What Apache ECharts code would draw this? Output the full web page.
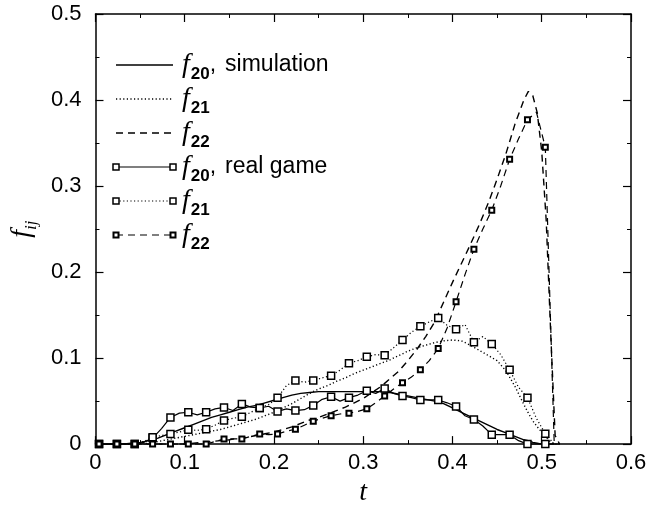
<!DOCTYPE html>
<html>
<head>
<meta charset="utf-8">
<script src="https://cdn.jsdelivr.net/npm/echarts@6/dist/echarts.min.js"></script>
<style>html,body{margin:0;padding:0;background:#fff;}#c{width:660px;height:512px;}</style>
</head>
<body>
<div id="c"></div>
<script>
// ---- data ----
const xTickLabels = ['0', '0.1', '0.2', '0.3', '0.4', '0.5', '0.6'];
const yTickLabels = ['0', '0.1', '0.2', '0.3', '0.4', '0.5'];

const simT = [0,0.01,0.02,0.03,0.04,0.05,0.06,0.07,0.08,0.09,
  0.10,0.11,0.12,0.13,0.14,0.15,0.16,0.17,0.18,0.19,
  0.20,0.21,0.22,0.23,0.24,0.25,0.26,0.27,0.28,0.29,
  0.30,0.31,0.32,0.33,0.34,0.35,0.36,0.37,0.38,0.39,
  0.40,0.41,0.42,0.43,0.44,0.45,0.46,0.47,0.48,
  0.485,0.49,0.495,0.50,0.505,0.51,0.515,0.52];
const simF20 = [0,0,0,0,0.001,0.002,0.004,0.007,0.011,0.015,
  0.019,0.023,0.027,0.031,0.034,0.037,0.040,0.043,0.045,0.048,
  0.051,0.054,0.057,0.059,0.060,0.061,0.061,0.061,0.061,0.061,
  0.061,0.061,0.061,0.060,0.058,0.056,0.054,0.052,0.050,0.047,
  0.042,0.037,0.032,0.027,0.022,0.017,0.013,0.009,0.005,
  0.004,0.002,0.001,0,0,0,0,0];
const simF21 = [0,0,0,0,0,0,0.001,0.003,0.005,0.007,
  0.009,0.011,0.013,0.015,0.017,0.020,0.023,0.026,0.029,0.033,
  0.037,0.042,0.047,0.053,0.059,0.064,0.068,0.073,0.077,0.082,
  0.086,0.090,0.094,0.098,0.103,0.108,0.112,0.115,0.118,0.120,
  0.121,0.120,0.115,0.109,0.103,0.097,0.085,0.067,0.046,
  0.036,0.027,0.020,0.014,0.008,0.002,0,0];
const simF22 = [0,0,0,0,0,0,0,0,0,0,
  0,0.001,0.002,0.003,0.004,0.005,0.007,0.008,0.010,0.012,
  0.014,0.017,0.020,0.024,0.028,0.031,0.035,0.039,0.043,0.048,
  0.053,0.060,0.067,0.076,0.085,0.097,0.110,0.125,0.142,0.165,
  0.188,0.210,0.232,0.255,0.280,0.308,0.338,0.372,0.400,
  0.410,0.405,0.385,0.340,0.260,0.130,0.010,0];

// real game: fine sampling, squares drawn on every second sample
const gameT = [0.004,0.014,0.024,0.034,0.044,0.054,0.064,0.074,0.084,0.094,
  0.104,0.114,0.124,0.134,0.144,0.154,0.164,0.174,0.184,0.194,
  0.204,0.214,0.224,0.234,0.244,0.254,0.264,0.274,0.284,0.294,
  0.304,0.314,0.324,0.334,0.344,0.354,0.364,0.374,0.384,0.394,
  0.404,0.414,0.424,0.434,0.444,0.454,0.464,0.474,0.484,0.494,
  0.504,0.514];
const gameF20 = [0,0,0,0,0,0.002,0.007,0.018,0.031,0.036,
  0.037,0.034,0.037,0.041,0.0426,0.039,0.0467,0.043,0.042,0.044,
  0.038,0.041,0.039,0.040,0.045,0.052,0.055,0.050,0.054,0.057,
  0.062,0.059,0.0645,0.059,0.056,0.054,0.0513,0.0513,0.0513,0.048,
  0.0437,0.033,0.0286,0.021,0.011,0.011,0.011,0.004,0,0,
  0,0];
const gameF21 = [0,0,0,0,0,0.003,0.008,0.010,0.0117,0.014,
  0.0166,0.016,0.0173,0.022,0.0275,0.030,0.0317,0.037,0.042,0.046,
  0.054,0.068,0.074,0.072,0.074,0.077,0.0796,0.086,0.094,0.097,
  0.1015,0.104,0.1033,0.112,0.121,0.130,0.137,0.142,0.1467,0.138,
  0.1335,0.139,0.1184,0.125,0.1165,0.104,0.0863,0.066,0.054,0.030,
  0.012,0];
const gameF22 = [0,0,0,0,0,0,0,0,0,0,
  0,0,0,0.003,0.006,0.006,0.006,0.009,0.0117,0.011,
  0.0117,0.015,0.0173,0.022,0.0267,0.030,0.033,0.035,0.036,0.038,
  0.041,0.048,0.056,0.064,0.0713,0.078,0.0863,0.097,0.111,0.135,
  0.1655,0.197,0.2266,0.250,0.272,0.300,0.331,0.355,0.377,0.386,
  0.345,0];

const legendSubs = ['20', '21', '22', '20', '21', '22'];
const legendTexts = ['simulation', '', '', 'real game', '', ''];

// ---- styles ----
const BLACK = '#000';
const SANS = 'Liberation Sans, Arial, Helvetica, sans-serif';
const SERIF = 'Liberation Serif, Times New Roman, serif';
const DASH = [7, 5];
const DOT = [1.2, 2.4];
const lineTypes = ['solid', DOT, DASH, 'solid', DOT, DASH];

const zip = (xs, ys) => xs.map((x, i) => [x, ys[i]]);

function simSeries(name, ys, type) {
  return {
    name, type: 'line', data: zip(simT, ys), showSymbol: false, symbol: 'none',
    lineStyle: { color: BLACK, width: 1.4, type }, silent: true, z: 3
  };
}
function gameSeries(name, ys, type, size, bw) {
  return {
    name, type: 'line', data: zip(gameT, ys), symbol: 'rect', showAllSymbol: true,
    symbolSize: (v, p) => (p.dataIndex % 2 === 0 ? size : 0),
    itemStyle: { color: '#fff', borderColor: BLACK, borderWidth: bw },
    lineStyle: { color: BLACK, width: 1.2, type }, silent: true, z: 4
  };
}

const axisCommon = {
  type: 'value',
  axisLine: { show: true, onZero: false, lineStyle: { color: BLACK, width: 1.5 } },
  axisTick: { show: true, inside: true, length: 8, lineStyle: { color: BLACK, width: 1.2 } },
  minorTick: { show: true, splitNumber: 2, length: 4, lineStyle: { color: BLACK, width: 1 } },
  splitLine: { show: false },
  minorSplitLine: { show: false }
};

const labelStyle = { color: BLACK, fontSize: 22, fontFamily: SANS };

// legend graphics
const graphics = [];
const LX1 = 116, LX2 = 173, LY0 = 65, LDY = 34;
for (let i = 0; i < 6; i++) {
  const y = LY0 + i * LDY;
  const t = lineTypes[i];
  graphics.push({
    type: 'line', shape: { x1: LX1, y1: y, x2: LX2, y2: y },
    style: { stroke: BLACK, lineWidth: i < 3 ? 1.4 : 1.2, lineDash: t === 'solid' ? null : t }
  });
  if (i >= 3) {
    const s = i === 5 ? 5 : 6;
    [LX1, LX2].forEach(x => graphics.push({
      type: 'rect', shape: { x: x - s / 2, y: y - s / 2, width: s, height: s },
      style: { fill: '#fff', stroke: BLACK, lineWidth: i === 5 ? 2 : 1.5 }, z: 10
    }));
  }
  graphics.push({
    type: 'text', x: 182, y: y,
    style: {
      text: '{f|f}{s|' + legendSubs[i] + '}' + (legendTexts[i] ? '{c|,}{n|' + legendTexts[i] + '}' : ''),
      verticalAlign: 'middle',
      rich: {
        f: { fontFamily: SERIF, fontStyle: 'italic', fontSize: 28, lineHeight: 28, verticalAlign: 'middle', fill: BLACK, padding: [0, 1, 0, 0] },
        s: { fontFamily: SANS, fontWeight: 'bold', fontSize: 17, lineHeight: 17, verticalAlign: 'bottom', fill: BLACK, padding: [0, 0, -4, 0] },
        c: { fontFamily: SANS, fontSize: 23, lineHeight: 28, verticalAlign: 'middle', fill: BLACK, padding: [0, 9, 0, 0] },
        n: { fontFamily: SANS, fontSize: 23, lineHeight: 28, verticalAlign: 'middle', fill: BLACK }
      }
    }
  });
}

const option = {
  animation: false,
  backgroundColor: '#fff',
  grid: { left: 94, right: 29, top: 14, bottom: 55, containLabel: false },
  xAxis: [
    Object.assign({}, axisCommon, {
      min: 0, max: 0.6, interval: 0.1, position: 'bottom',
      axisLabel: Object.assign({}, labelStyle, { margin: 8, formatter: v => xTickLabels[Math.round(v * 10)] }),
      name: 't', nameLocation: 'middle', nameGap: 33,
      nameTextStyle: { fontFamily: SERIF, fontStyle: 'italic', fontSize: 28, color: BLACK }
    }),
    Object.assign({}, axisCommon, {
      min: 0, max: 0.6, interval: 0.1, position: 'top', axisLabel: { show: false }
    })
  ],
  yAxis: [
    Object.assign({}, axisCommon, {
      min: 0, max: 0.5, interval: 0.1, position: 'left',
      axisLabel: Object.assign({}, labelStyle, { margin: 14, formatter: v => yTickLabels[Math.round(v * 10)] }),
      name: '{f|f}{s|ij}', nameLocation: 'middle', nameGap: 38, nameRotate: 90,
      nameTextStyle: {
        color: BLACK,
        rich: {
          f: { fontFamily: SERIF, fontStyle: 'italic', fontSize: 28, lineHeight: 28, verticalAlign: 'middle' },
          s: { fontFamily: SERIF, fontStyle: 'italic', fontSize: 17, lineHeight: 17, verticalAlign: 'bottom', padding: [0, 0, -4, 0] }
        }
      }
    }),
    Object.assign({}, axisCommon, {
      min: 0, max: 0.5, interval: 0.1, position: 'right', axisLabel: { show: false }
    })
  ],
  graphic: graphics,
  series: [
    simSeries('f20, simulation', simF20, 'solid'),
    simSeries('f21', simF21, DOT),
    simSeries('f22', simF22, DASH),
    gameSeries('f20, real game', gameF20, 'solid', 7, 1.5),
    gameSeries('f21, real game', gameF21, DOT, 7, 1.5),
    gameSeries('f22, real game', gameF22, DASH, 5, 2)
  ]
};

const chart = echarts.init(document.getElementById('c'), null, { renderer: 'canvas' });
chart.setOption(option);
</script>
</body>
</html>
